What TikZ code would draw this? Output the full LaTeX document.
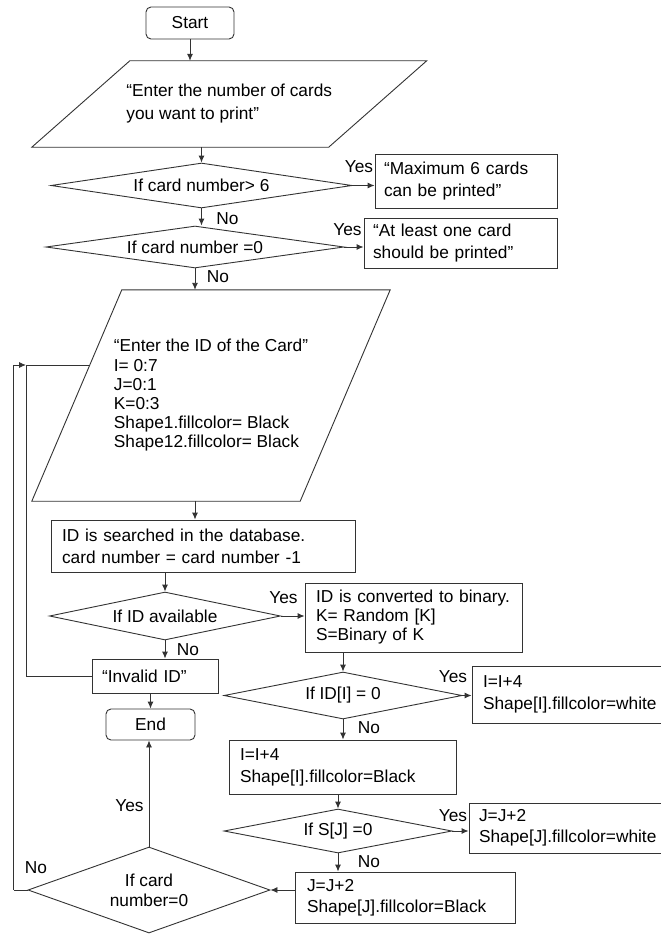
\documentclass[tikz,border=0pt]{standalone}
\usepackage{fontspec}
\setmainfont{Liberation Sans}
\usetikzlibrary{shapes.geometric,arrows.meta,calc}
\newcommand\fsz[1]{\fontsize{17.3pt}{#1pt}\selectfont}
\begin{document}
\begin{tikzpicture}[x=1pt,y=-1pt,
  line/.style={draw=black!80, line width=0.9pt},
  arr/.style={line, -{Latex[length=7pt,width=6pt]}},
  box/.style={line, rectangle, inner ysep=0pt, align=left},
  term/.style={line, rectangle, rounded corners=5pt, inner sep=0pt, align=center},
  dec/.style={line, diamond, inner sep=0pt},
  lbl/.style={inner sep=0pt},
  every node/.append style={font=\fsz{22}}
]
\fill[white] (0,0) rectangle (661,934);
\useasboundingbox (0,0) rectangle (661,934);
\clip (0,0) rectangle (661,934);

% nodes
\node[term, minimum width=88pt, minimum height=32pt] (start) at (190,23) {Start};

\node[inner sep=0pt, minimum width=296.5pt, minimum height=86pt, align=left, font=\fsz{23}] (p1) at (229.25,104) {“Enter the number of cards\\you want to print”};
\draw[line] ($(p1.north west)+(49,0)$) -- ($(p1.north east)+(49,0)$) -- ($(p1.south east)+(-49,0)$) -- ($(p1.south west)+(-49,0)$) -- cycle;

\node[dec, minimum width=301pt, minimum height=45pt, label={center:If card number> 6}] (d1) at (201.5,185.5) {};
\node[box, minimum height=54pt, inner xsep=9pt, text width=164pt] (b1) at (466,181) {“Maximum 6 cards\\can be printed”};

\node[dec, minimum width=298pt, minimum height=42pt, label={center:If card number =0}] (d2) at (195,247) {};
\node[box, minimum height=50pt, inner xsep=9pt, text width=175pt] (b2) at (460.5,243) {“At least one card\\should be printed”};

\node[inner sep=0pt, minimum width=268pt, minimum height=211pt, align=left, font=\fsz{19.2}] (p2) at (211,395.5) {“Enter the ID of the Card”\\I= 0:7\\J=0:1\\K=0:3\\Shape1.fillcolor= Black\\Shape12.fillcolor= Black};
\draw[line] ($(p2.north west)+(45,0)$) -- ($(p2.north east)+(45,0)$) -- ($(p2.south east)+(-45,0)$) -- ($(p2.south west)+(-45,0)$) -- cycle;

\node[box, minimum height=52pt, inner xsep=11pt, text width=282pt] (b3) at (203,546) {ID is searched in the database.\\card number = card number -1};

\node[dec, minimum width=231pt, minimum height=48pt, label={center:If ID available}] (d3) at (165,616) {};
\node[box, minimum height=69pt, inner xsep=11pt, text width=195pt, font=\fsz{19}] (b4) at (413.5,617.5) {ID is converted to binary.\\K= Random [K]\\S=Binary of K};

\node[box, minimum height=34pt, inner xsep=10pt, text width=106pt] (inv) at (155,676) {“Invalid ID”};
\node[term, minimum width=89pt, minimum height=31pt] (endb) at (150.5,724.5) {End};

\node[dec, minimum width=238pt, minimum height=47pt, label={center:{If ID[I] = 0}}] (d4) at (343,695.5) {};
\node[box, minimum height=57pt, inner xsep=11pt, text width=186pt] (b5) at (576,694.5) {I=I+4\\Shape[I].fillcolor=white};
\node[box, minimum height=54pt, inner xsep=11pt, text width=205pt] (b6) at (342.5,767) {I=I+4\\Shape[I].fillcolor=Black};

\node[dec, minimum width=228pt, minimum height=44pt, label={center:{If S[J] =0}}] (d5) at (338,831) {};
\node[box, minimum height=50pt, inner xsep=10pt, text width=191pt, font=\fsz{21}] (b7) at (574.5,828) {J=J+2\\Shape[J].fillcolor=white};
\node[box, minimum height=51pt, inner xsep=12pt, text width=196pt, font=\fsz{21}] (b8) at (405,897.5) {J=J+2\\Shape[J].fillcolor=Black};

\node[dec, minimum width=242pt, minimum height=86pt, label={[align=center, font=\fsz{20}]center:If card\\number=0}] (d6) at (149,890) {};

% labels
\node[lbl] (y1) at (359,167) {Yes};
\node[lbl] (n1) at (227.5,219) {No};
\node[lbl] (y2) at (347.5,230) {Yes};
\node[lbl] (n2) at (218,277) {No};
\node[lbl] (y3) at (283.5,598) {Yes};
\node[lbl] (n3) at (188,650) {No};
\node[lbl] (y4) at (453,677) {Yes};
\node[lbl] (n4) at (369,728) {No};
\node[lbl] (y5) at (453,816) {Yes};
\node[lbl] (n5) at (369,862) {No};
\node[lbl] (y6) at (129.5,806) {Yes};
\node[lbl] (n6) at (36,868) {No};

% connectors
\draw[arr] (start.south) -- (start.south |- p1.north);
\draw[arr] (p1.south -| d1.north) -- (d1.north);
\draw[arr] (d1.east) -- (d1.east -| b1.west);
\draw[arr] (d1.south) -- (d1.south |- d2.north);
\draw[arr] (d2.east) -- (d2.east -| b2.west);
\draw[arr] (d2.south) -- (d2.south |- p2.north);
\draw[arr] (p2.south -| d2.south) -- (b3.north -| d2.south);
\draw[arr] (b3.south -| d3.north) -- (d3.north);
\draw[arr] (d3.east) -- (d3.east -| b4.west);
\draw[arr] (d3.south) -- (d3.south |- inv.north);
\draw[arr] (inv.south -| endb.north) -- (endb.north);
\draw[arr] (b4.south -| d4.north) -- (d4.north);
\draw[arr] (d4.east) -- (d4.east -| b5.west);
\draw[arr] (d4.south) -- (d4.south |- b6.north);
\draw[arr] (b6.south -| d5.north) -- (d5.north);
\draw[arr] (d5.east) -- (d5.east -| b7.west);
\draw[arr] (d5.south) -- (d5.south |- b8.north);
\draw[arr] (b8.west |- d6.east) -- (d6.east);
\draw[arr] (d6.north) -- (d6.north |- endb.south);
\coordinate (loopin) at (26,365);
\coordinate (loopdown) at (14,890);
\coordinate (loopup) at (14,365);
\coordinate (p2in) at ($(p2.west)+(13,-30.5)$);
\draw[line] (inv.west) -| (loopin) -- (p2in);
\draw[line] (d6.west) -- (loopdown);
\draw[line, line width=0.7pt, double=white, double distance=0.9pt] (loopdown) -- (loopup);
\draw[arr] (loopup) -- (loopin);
\end{tikzpicture}
\end{document}
